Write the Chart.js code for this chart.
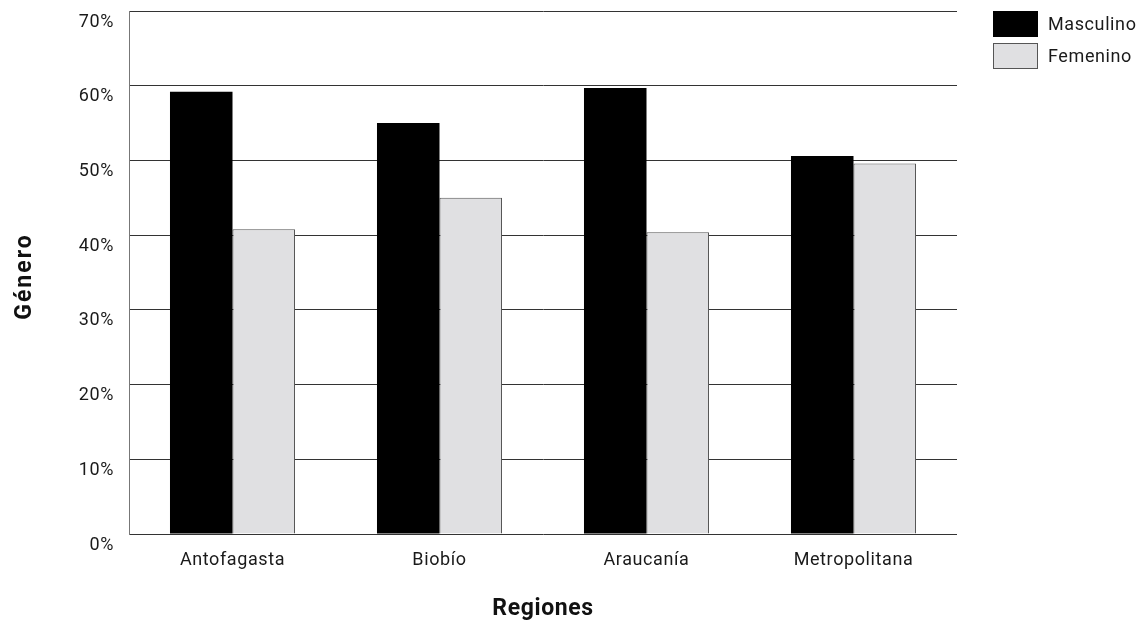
<!DOCTYPE html>
<html>
<head>
<meta charset="utf-8">
<script src="https://cdn.jsdelivr.net/npm/chart.js@4"></script>
<style>
  html, body { margin: 0; padding: 0; background: #fff; }
  #wrap { width: 1145px; height: 624px; position: relative; }
</style>
</head>
<body>
<div id="wrap"><canvas id="c"></canvas></div>
<script>
const categories = ['Antofagasta', 'Biobío', 'Araucanía', 'Metropolitana'];
const masculino = [59.2, 55.0, 59.7, 50.6];
const femenino  = [40.8, 45.0, 40.4, 49.6];
const seriesNames = ['Masculino', 'Femenino'];
const yTicks = [0, 10, 20, 30, 40, 50, 60, 70];
const xTitle = 'Regiones';
const yTitle = 'Género';

const FONT = 'Roboto, "DejaVu Sans", sans-serif';

// Legend boxes in the top-right corner plus the rotated y-axis title
const decorations = {
  id: 'decorations',
  beforeDraw(chart) {
    chart.ctx.letterSpacing = '0.6px';
  },
  afterDraw(chart) {
    const ctx = chart.ctx;
    ctx.save();
    ctx.letterSpacing = '0.6px';
    const x = 993, w = 45, h = 26;
    chart.data.datasets.forEach((ds, i) => {
      const y = 11 + i * 32;
      ctx.fillStyle = ds.backgroundColor;
      ctx.fillRect(x, y, w, h);
      ctx.strokeStyle = ds.legendStroke;
      ctx.lineWidth = 1;
      ctx.strokeRect(x + 0.5, y + 0.5, w - 1, h - 1);
      ctx.fillStyle = '#1a1a1a';
      ctx.font = '18px ' + FONT;
      ctx.textBaseline = 'middle';
      ctx.textAlign = 'left';
      ctx.fillText(ds.label, 1048, y + h / 2 + 1);
    });
    ctx.restore();

    // y-axis title
    const area = chart.chartArea;
    ctx.save();
    ctx.letterSpacing = '2px';
    ctx.translate(25, (area.top + area.bottom) / 2 + 4);
    ctx.rotate(-Math.PI / 2);
    ctx.font = 'bold 23px ' + FONT;
    ctx.fillStyle = '#111';
    ctx.textAlign = 'center';
    ctx.textBaseline = 'middle';
    ctx.fillText(yTitle, 0, 0);
    ctx.restore();
  }
};

new Chart(document.getElementById('c'), {
  type: 'bar',
  data: {
    labels: categories,
    datasets: [
      {
        label: seriesNames[0],
        data: masculino,
        backgroundColor: '#000000',
        borderWidth: 0,
        legendStroke: '#000000',
        categoryPercentage: 0.604,
        barPercentage: 1.0
      },
      {
        label: seriesNames[1],
        data: femenino,
        backgroundColor: '#e0e0e2',
        borderColor: '#555555',
        borderWidth: { top: 1, right: 1, left: 1, bottom: 0 },
        legendStroke: '#555555',
        categoryPercentage: 0.604,
        barPercentage: 1.0
      }
    ]
  },
  options: {
    responsive: true,
    maintainAspectRatio: false,
    animation: false,
    layout: { padding: { top: 11, right: 188, left: 0, bottom: 0 } },
    plugins: {
      legend: { display: false },
      tooltip: { enabled: false }
    },
    scales: {
      x: {
        grid: { display: false, drawTicks: false },
        border: { display: false },
        ticks: {
          color: '#1a1a1a',
          padding: 16,
          font: { family: FONT, size: 18 }
        },
        title: {
          display: true,
          text: xTitle,
          color: '#111',
          font: { family: FONT, size: 23, weight: 'bold' },
          padding: { top: 0, bottom: 1 }
        },
        afterFit(scale) {
          scale.height = 90;
          scale.paddingLeft = 0;
          scale.paddingRight = 0;
        }
      },
      y: {
        min: 0,
        max: 70,
        afterBuildTicks(scale) {
          scale.ticks = yTicks.map(v => ({ value: v }));
        },
        grid: { color: '#333333', lineWidth: 1, drawTicks: false },
        border: { display: true, color: '#777777', width: 1 },
        ticks: {
          color: '#1a1a1a',
          padding: 15,
          labelOffset: 11,
          font: { family: FONT, size: 18 },
          callback: v => v + '%'
        },
        afterFit(scale) {
          scale.width = 129;
          scale.paddingTop = 0;
          scale.paddingBottom = 0;
        }
      }
    }
  },
  plugins: [decorations]
});
</script>
</body>
</html>
